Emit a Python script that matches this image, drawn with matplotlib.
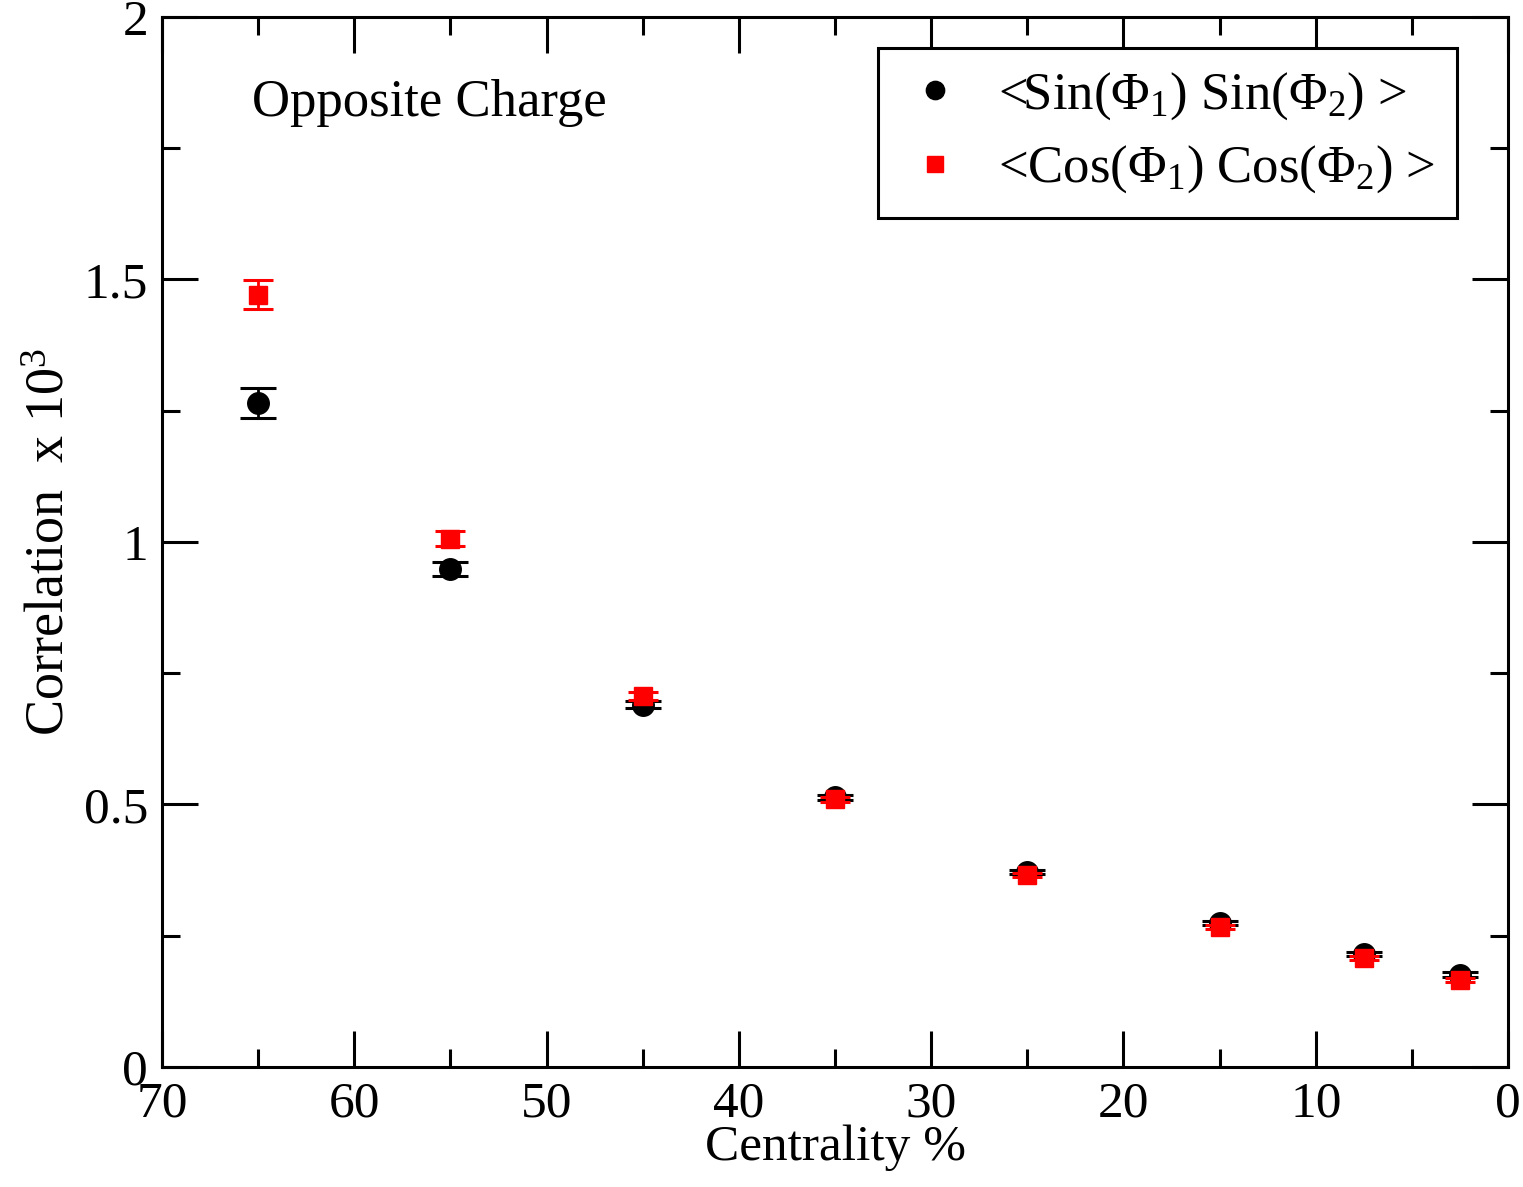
import matplotlib
matplotlib.use("Agg")
import matplotlib.pyplot as plt
from matplotlib.ticker import MultipleLocator

plt.rcParams['font.family'] = ['Liberation Serif', 'DejaVu Serif']
plt.rcParams['mathtext.fontset'] = 'custom'
plt.rcParams['mathtext.rm'] = 'Liberation Serif'
plt.rcParams['mathtext.it'] = 'Liberation Serif:italic'
plt.rcParams['mathtext.bf'] = 'Liberation Serif:bold'

centrality = [65, 55, 45, 35, 25, 15, 7.5, 2.5]
sin_vals = [1.265, 0.948, 0.690, 0.514, 0.372, 0.275, 0.215, 0.176]
sin_errs = [0.028, 0.013, 0.007, 0.005, 0.004, 0.004, 0.004, 0.004]
cos_vals = [1.471, 1.006, 0.707, 0.510, 0.366, 0.267, 0.207, 0.166]
cos_errs = [0.028, 0.014, 0.008, 0.005, 0.004, 0.004, 0.004, 0.004]

fig = plt.figure(figsize=(15.23, 11.87), dpi=100)
ax = fig.add_axes([0.1064, 0.1011, 0.8838, 0.8846])

c1 = ax.errorbar(centrality, sin_vals, yerr=sin_errs, fmt='o', color='black', ms=15.5,
                 capsize=13, elinewidth=2, capthick=2.2, zorder=3)
c2 = ax.errorbar(centrality, cos_vals, yerr=cos_errs, fmt='s', color='red', ms=13,
                 capsize=11, elinewidth=2, capthick=2.2, zorder=4)

ax.set_xlim(70, 0)
ax.set_ylim(0, 2)
ax.xaxis.set_major_locator(MultipleLocator(10))
ax.xaxis.set_minor_locator(MultipleLocator(5))
ax.yaxis.set_minor_locator(MultipleLocator(0.25))
ax.set_yticks([0, 0.5, 1, 1.5, 2])
ax.set_yticklabels(['0', '0.5', '1', '1.5', '2'])

ax.tick_params(which='both', direction='in', top=True, right=True, labelsize=37, width=2.2)
ax.tick_params(which='major', length=26, pad=10)
ax.tick_params(which='minor', length=13)
for s in ax.spines.values():
    s.set_linewidth(2.2)

ax.set_xlabel('Centrality %', fontsize=37, labelpad=-2)
ax.set_ylabel(r'Correlation  x 10$^{3}$', fontsize=39, labelpad=6)

ax.text(0.067, 0.918, 'Opposite Charge', transform=ax.transAxes, fontsize=38,
        ha='left', va='center')

labels = [r'<Sin($\Phi_{1}$) Sin($\Phi_{2}$) >', r'<Cos($\Phi_{1}$) Cos($\Phi_{2}$) >']
leg = ax.legend([c1[0], c2[0]], labels, loc='upper left', bbox_to_anchor=(0.532, 0.9705),
                fontsize=38, frameon=True, fancybox=False, edgecolor='black', framealpha=1,
                handletextpad=0.55, borderpad=0.42, labelspacing=0.42, handlelength=1.3,
                borderaxespad=0, markerscale=0.85)
leg.get_frame().set_linewidth(2.2)

fig.savefig('out.png', dpi=100)
